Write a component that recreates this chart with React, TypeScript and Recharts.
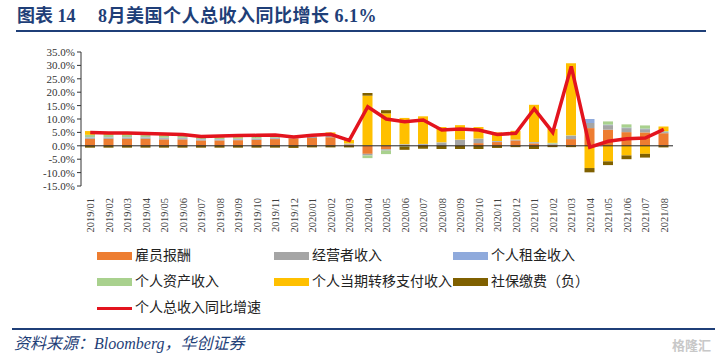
import React from 'react';
import {
  ComposedChart,
  Bar,
  Line,
  XAxis,
  YAxis,
  ReferenceLine,
} from 'recharts';

const months = [
  '2019/01', '2019/02', '2019/03', '2019/04', '2019/05', '2019/06', '2019/07', '2019/08',
  '2019/09', '2019/10', '2019/11', '2019/12', '2020/01', '2020/02', '2020/03', '2020/04',
  '2020/05', '2020/06', '2020/07', '2020/08', '2020/09', '2020/10', '2020/11', '2020/12',
  '2021/01', '2021/02', '2021/03', '2021/04', '2021/05', '2021/06', '2021/07', '2021/08',
];

// contributions, percentage points
const employeeComp = [
  2.6, 2.6, 2.6, 2.6, 2.4, 2.4, 2.0, 2.0, 2.1, 2.2, 2.5, 2.8,
  2.9, 3.2, 0.5, -3.0, -1.3, 0.3, 0.3, 0.2, 0.2, 1.0, 1.4, 2.0,
  0.9, 0.4, 2.5, 6.6, 6.0, 5.1, 5.0, 4.7,
];
const proprietors = [
  0.4, 0.4, 0.4, 0.4, 0.4, 0.4, 0.3, 0.3, 0.3, 0.3, 0.3, 0.3,
  0.4, 0.6, 0.1, -0.6, -0.5, 0.2, 0.3, 1.0, 2.0, 1.6, 0.3, 0.2,
  0.4, 0.3, 1.2, 1.9, 1.7, 1.5, 1.2, 0.4,
];
const rental = [
  0.2, 0.2, 0.2, 0.2, 0.2, 0.2, 0.2, 0.2, 0.2, 0.2, 0.2, 0.1,
  0.1, 0.1, 0.1, 0.1, 0.1, 0.1, 0.1, 0.1, 0.1, 0.1, 0.1, 0.1,
  0.1, 0.1, 0.1, 1.5, 0.2, 0.2, 0.2, 0.1,
];
const assetIncome = [
  0.9, 0.9, 0.9, 0.8, 0.8, 0.7, 0.6, 0.6, 0.6, 0.6, 0.5, 0.2,
  0.2, 0.2, 0.2, -1.0, -1.3, -0.3, 0.0, 0.0, 0.0, 0.0, 0.0, 0.0,
  0.0, 0.3, 0.1, 0.0, 1.2, 1.2, 1.2, 0.3,
];
const transfers = [
  1.4, 1.0, 1.0, 0.8, 0.7, 0.6, 0.7, 0.8, 0.9, 0.8, 0.8, 0.3,
  0.8, 0.9, 1.3, 18.6, 12.0, 9.8, 10.3, 5.7, 5.4, 4.3, 3.2, 3.3,
  13.9, 5.2, 26.9, -8.3, -5.8, -3.6, -3.0, 1.7,
];
const socialIns = [
  -0.7, -0.7, -0.7, -0.7, -0.7, -0.7, -0.7, -0.7, -0.7, -0.7, -0.7, -0.8,
  -0.6, -0.6, -0.6, 1.0, 1.2, -1.2, -1.1, -1.2, -1.2, -1.2, -0.8, -0.5,
  -1.2, -0.5, -0.5, -1.6, -1.4, -1.4, -1.4, -0.6,
];
const totalYoY = [
  5.0, 4.8, 4.8, 4.6, 4.4, 4.2, 3.5, 3.7, 3.8, 3.9, 4.0, 3.3,
  3.9, 4.3, 2.0, 14.6, 10.0, 9.0, 9.6, 5.9, 6.3, 5.9, 4.2, 4.7,
  13.8, 5.0, 29.6, -0.5, 1.7, 2.6, 2.9, 6.1,
];

const yTicks = [35, 30, 25, 20, 15, 10, 5, 0, -5, -10, -15];

const data = months.map((m, i) => ({
  month: m,
  emp: employeeComp[i],
  prop: proprietors[i],
  rent: rental[i],
  asset: assetIncome[i],
  trans: transfers[i],
  soc: socialIns[i],
  total: totalYoY[i],
}));

const NAVY = '#1f3f78';
const RED = '#E3141E';
const SERIF = '"Liberation Serif", "Noto Sans CJK SC", serif';

const MonthTick = (props: any) => {
  const { x, y, payload } = props;
  return (
    <text
      x={x}
      y={y}
      transform={`rotate(-90, ${x}, ${y})`}
      textAnchor="end"
      dy={4}
      dx={-4}
      fontSize={10.5}
      fontFamily={SERIF}
      fill="#404040"
    >
      {payload.value}
    </text>
  );
};

const legendItems = [
  { label: '雇员报酬', color: '#ED7D31', x: 97, y: 256 },
  { label: '经营者收入', color: '#A5A5A5', x: 274, y: 256 },
  { label: '个人租金收入', color: '#8FAADC', x: 453, y: 256 },
  { label: '个人资产收入', color: '#A9D18E', x: 97, y: 282 },
  { label: '个人当期转移支付收入', color: '#FFC000', x: 274, y: 282 },
  { label: '社保缴费（负）', color: '#7F6000', x: 453, y: 282 },
];

const legendText = { marginLeft: 3, fontSize: 14, fontFamily: SERIF, color: '#222', lineHeight: '16px' };

export default function App() {
  return (
    <div style={{ position: 'absolute', left: 0, top: 0, width: 719, height: 360, background: '#fff', overflow: 'hidden' }}>
      <div style={{ position: 'absolute', left: 17, top: 4, fontFamily: SERIF, fontWeight: 'bold', fontSize: 18, color: NAVY, lineHeight: '24px', whiteSpace: 'pre' }}>
        图表 14
      </div>
      <div style={{ position: 'absolute', left: 98, top: 4, fontFamily: SERIF, fontWeight: 'bold', fontSize: 18, letterSpacing: 0.5, color: NAVY, lineHeight: '24px', whiteSpace: 'pre' }}>
        8月美国个人总收入同比增长 6.1%
      </div>
      <div style={{ position: 'absolute', left: 16, top: 30, width: 690, height: 2, background: NAVY }} />

      <div style={{ position: 'absolute', left: 0, top: 0 }}>
        <ComposedChart
          width={719}
          height={245}
          data={data}
          stackOffset="sign"
          margin={{ top: 52, right: 46, left: 0, bottom: 0 }}
        >
          <XAxis
            dataKey="month"
            interval={0}
            height={59}
            axisLine={false}
            tickLine={false}
            tick={<MonthTick />}
          />
          <YAxis
            domain={[-15, 35]}
            ticks={yTicks}
            width={81}
            interval={0}
            tickFormatter={(v: number) => `${v.toFixed(1)}%`}
            tick={{ fontSize: 11, fontFamily: SERIF, fill: '#333' }}
            tickSize={4}
            axisLine={{ stroke: '#333' }}
            tickLine={{ stroke: '#333' }}
          />
          <Bar dataKey="emp" stackId="a" fill="#ED7D31" barSize={10} isAnimationActive={false} />
          <Bar dataKey="prop" stackId="a" fill="#A5A5A5" barSize={10} isAnimationActive={false} />
          <Bar dataKey="rent" stackId="a" fill="#8FAADC" barSize={10} isAnimationActive={false} />
          <Bar dataKey="asset" stackId="a" fill="#A9D18E" barSize={10} isAnimationActive={false} />
          <Bar dataKey="trans" stackId="a" fill="#FFC000" barSize={10} isAnimationActive={false} />
          <Bar dataKey="soc" stackId="a" fill="#7F6000" barSize={10} isAnimationActive={false} />
          <ReferenceLine y={0} stroke="#222" strokeWidth={1} />
          <Line
            dataKey="total"
            type="linear"
            stroke={RED}
            strokeWidth={3.5}
            dot={false}
            isAnimationActive={false}
          />
        </ComposedChart>
      </div>

      {legendItems.map((it) => (
        <div key={it.label} style={{ position: 'absolute', left: it.x, top: it.y - 8, display: 'flex', alignItems: 'center' }}>
          <div style={{ width: 35, height: 8, background: it.color }} />
          <span style={legendText}>{it.label}</span>
        </div>
      ))}
      <div style={{ position: 'absolute', left: 97, top: 300, display: 'flex', alignItems: 'center' }}>
        <div style={{ width: 35, height: 3, background: RED }} />
        <span style={legendText}>个人总收入同比增速</span>
      </div>

      <div style={{ position: 'absolute', left: 12, top: 328, width: 703, height: 2, background: NAVY }} />
      <div style={{ position: 'absolute', left: 14, top: 334, fontFamily: SERIF, fontStyle: 'italic', fontSize: 16, color: NAVY, lineHeight: '20px' }}>
        资料来源：Bloomberg，华创证券
      </div>
      <div style={{ position: 'absolute', left: 672, top: 336, fontFamily: '"Noto Sans CJK SC", sans-serif', fontSize: 13, color: '#c8c8c8', fontWeight: 'bold', lineHeight: '18px' }}>
        格隆汇
      </div>
    </div>
  );
}
